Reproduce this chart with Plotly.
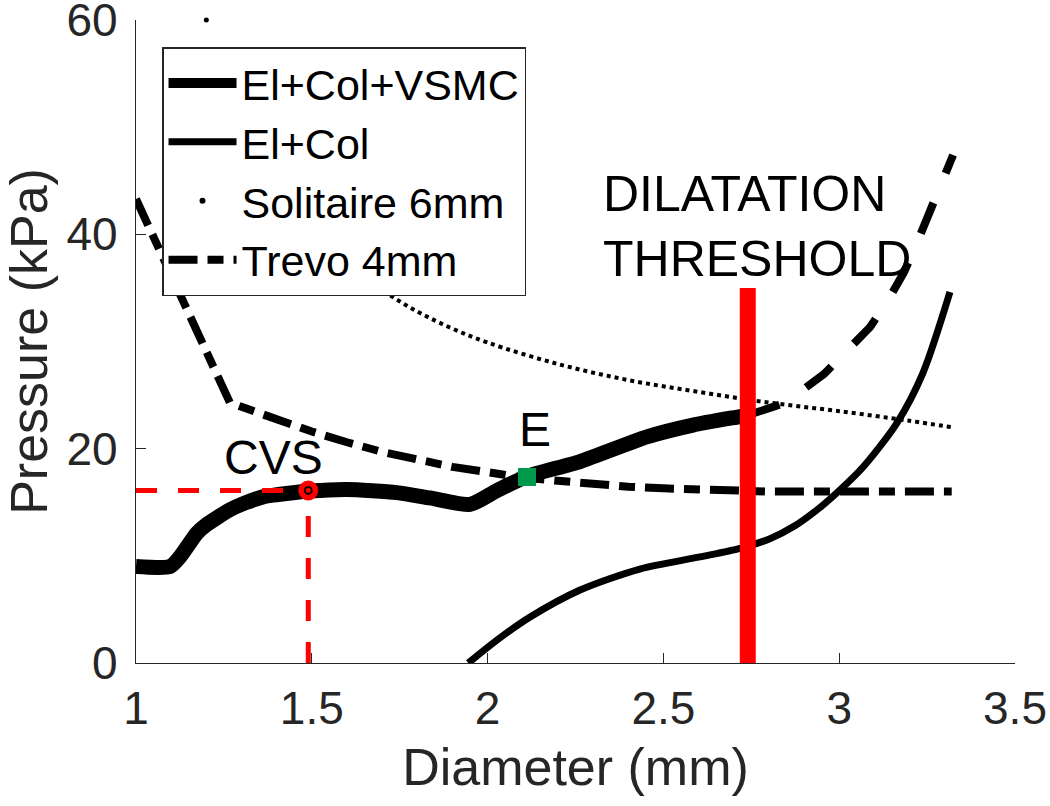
import plotly.graph_objects as go

# ---- data ----
vsmc_x = [1.0, 1.097, 1.125, 1.173, 1.2, 1.267, 1.3, 1.361, 1.4, 1.495, 1.6, 1.742, 1.836, 1.95,
          2.027, 2.112, 2.263, 2.453, 2.584, 2.718, 2.741]
vsmc_y = [9.0, 9.0, 9.9, 12.1, 12.9, 14.3, 14.8, 15.5, 15.7, 16.05, 16.2, 15.9, 15.4, 14.8,
          16.1, 17.4, 18.8, 21.1, 22.2, 23.0, 23.14]

elcol_x = [1.945, 2.027, 2.121, 2.263, 2.433, 2.604, 2.718, 2.803, 2.874, 2.945, 3.002, 3.068,
           3.164, 3.238, 3.315]
elcol_y = [0.0, 2.15, 4.29, 6.81, 8.77, 9.9, 10.7, 11.6, 12.8, 14.5, 16.14, 18.29,
           22.39, 27.06, 34.62]

sol_x = [1.2, 1.3, 1.4, 1.5, 1.6, 1.7, 1.8, 1.9, 2.0, 2.2, 2.4, 2.6, 2.8, 3.0, 3.2, 3.32]
sol_y = [60.0, 50.5, 44.6, 40.4, 37.3, 34.8, 32.8, 31.2, 29.9, 27.9, 26.4, 25.3, 24.3, 23.5, 22.6, 22.0]

trevo_x = [1.0, 1.267, 1.3, 1.4, 1.5, 1.6, 1.7, 1.8, 1.9, 2.0, 2.1, 2.2, 2.3, 2.4, 2.5, 2.6,
           2.7, 2.8, 3.0, 3.2, 3.32]
trevo_y = [43.3, 24.3, 23.9, 22.7, 21.6, 20.6, 19.7, 19.0, 18.3, 17.8, 17.3, 17.0, 16.7, 16.45,
           16.3, 16.15, 16.05, 16.0, 16.0, 16.0, 16.0]

rise_x = [2.741, 2.846, 2.957, 3.025, 3.088, 3.139, 3.184, 3.221, 3.255, 3.290, 3.324]
rise_y = [23.14, 24.26, 26.97, 29.11, 31.35, 33.87, 36.44, 39.19, 41.90, 44.70, 47.40]

threshold_x = 2.74
threshold_top = 35.0
cvs_x, cvs_y = 1.49, 16.1
e_x, e_y = 2.112, 17.36

x_ticks = [1, 1.5, 2, 2.5, 3, 3.5]
x_tick_labels = ["1", "1.5", "2", "2.5", "3", "3.5"]
y_ticks = [0, 20, 40, 60]
y_tick_labels = ["0", "20", "40", "60"]

names = ["El+Col+VSMC", "El+Col", "Solitaire 6mm", "Trevo 4mm"]
label_cvs = "CVS"
label_e = "E"
label_thr = "DILATATION<br>THRESHOLD"
x_title = "Diameter (mm)"
y_title = "Pressure (kPa)"

FONT = "Liberation Sans"
AX = "#262626"

fig = go.Figure()

# Solitaire (dotted); first point drawn as an unclipped dot
fig.add_trace(go.Scatter(x=sol_x[1:], y=sol_y[1:], mode="lines",
                         line=dict(color="black", width=4, dash="4px,4px", shape="spline"),
                         showlegend=False, hoverinfo="skip"))
fig.add_trace(go.Scatter(x=sol_x[:1], y=sol_y[:1], mode="markers", cliponaxis=False,
                         marker=dict(color="black", size=5), showlegend=False, hoverinfo="skip"))
# Trevo (dash-dot)
fig.add_trace(go.Scatter(x=trevo_x, y=trevo_y, mode="lines", name=names[3], legendrank=4,
                         line=dict(color="black", width=8, dash="29px,10px,16px,10px")))
# El+Col
fig.add_trace(go.Scatter(x=elcol_x, y=elcol_y, mode="lines", name=names[1], legendrank=2,
                         line=dict(color="black", width=7, shape="spline", smoothing=0.8)))
# El+Col+VSMC
fig.add_trace(go.Scatter(x=vsmc_x, y=vsmc_y, mode="lines", name=names[0], legendrank=1,
                         line=dict(color="black", width=15, shape="spline", smoothing=0.6)))
# dashed continuation
fig.add_trace(go.Scatter(x=rise_x, y=rise_y, mode="lines", showlegend=False,
                         line=dict(color="black", width=8, dash="33px,32px")))
# Solitaire legend entry (single dot)
fig.add_trace(go.Scatter(x=[None], y=[None], mode="markers", name=names[2], legendrank=3,
                         marker=dict(color="black", size=6)))
# red dashed guides at CVS
fig.add_trace(go.Scatter(x=[x_ticks[0], cvs_x], y=[cvs_y, cvs_y], mode="lines", showlegend=False,
                         line=dict(color="#FF0000", width=5, dash="21px,21px")))
fig.add_trace(go.Scatter(x=[cvs_x, cvs_x], y=[y_ticks[0], cvs_y], mode="lines", showlegend=False,
                         line=dict(color="#FF0000", width=5, dash="21px,21px")))
# threshold bar
fig.add_trace(go.Scatter(x=[threshold_x, threshold_x], y=[y_ticks[0], threshold_top], mode="lines",
                         showlegend=False, line=dict(color="#FF0000", width=16)))
# CVS marker
fig.add_trace(go.Scatter(x=[cvs_x], y=[cvs_y], mode="markers", showlegend=False,
                         marker=dict(symbol="circle", size=18, color="#FF0000",
                                     line=dict(width=2, color="#FF0000"))))
fig.add_trace(go.Scatter(x=[cvs_x], y=[cvs_y], mode="markers", showlegend=False,
                         marker=dict(symbol="circle-open", size=7, color="black",
                                     line=dict(width=1.8, color="black"))))
# E marker
fig.add_trace(go.Scatter(x=[e_x], y=[e_y], mode="markers", showlegend=False,
                         marker=dict(symbol="square", size=18, color="#00994C", line=dict(width=0))))

fig.add_annotation(x=1.391, y=19.2, text=label_cvs, showarrow=False, xanchor="center", yanchor="middle",
                   font=dict(family=FONT, size=48, color="black"))
fig.add_annotation(x=2.135, y=21.8, text=label_e, showarrow=False, xanchor="center", yanchor="middle",
                   font=dict(family=FONT, size=48, color="black"))
fig.add_annotation(x=2.322, y=40.7, text=label_thr, showarrow=False, xanchor="left", yanchor="middle",
                   align="left", font=dict(family=FONT, size=50, color="black"))

fig.update_layout(
    width=1050, height=806,
    margin=dict(l=136, r=35, t=20, b=143, autoexpand=False),
    paper_bgcolor="white", plot_bgcolor="white",
    font=dict(family=FONT, color=AX),
    legend=dict(x=0.0296, y=0.958, xanchor="left", yanchor="top", bgcolor="white",
                bordercolor=AX, borderwidth=1.5, font=dict(family=FONT, size=43, color="black"),
                itemwidth=68, tracegroupgap=0),
    xaxis=dict(range=[1, 3.5], tickvals=x_ticks, ticktext=x_tick_labels, ticks="inside", ticklen=10,
               tickwidth=1.3, tickcolor=AX, showline=True, linecolor=AX, linewidth=1.3, mirror=False,
               showgrid=False, zeroline=False, tickfont=dict(family=FONT, size=46, color=AX),
               ticklabelstandoff=5, automargin=False,
               title=dict(text=x_title, font=dict(family=FONT, size=52, color=AX), standoff=15)),
    yaxis=dict(range=[0, 60], tickvals=y_ticks, ticktext=y_tick_labels, ticks="inside", ticklen=10,
               tickwidth=1.3, tickcolor=AX, showline=True, linecolor=AX, linewidth=1.3, mirror=False,
               showgrid=False, zeroline=False, tickfont=dict(family=FONT, size=46, color=AX),
               ticklabelstandoff=8, automargin=False, ticklabeloverflow="allow",
               title=dict(text=y_title, font=dict(family=FONT, size=52, color=AX), standoff=18)),
)

# remove the browser's default 8px page margin so the figure starts at the window's corner
fig.write_html("out.html", config={"displayModeBar": False},
               post_script="document.body.style.margin='0px';")
